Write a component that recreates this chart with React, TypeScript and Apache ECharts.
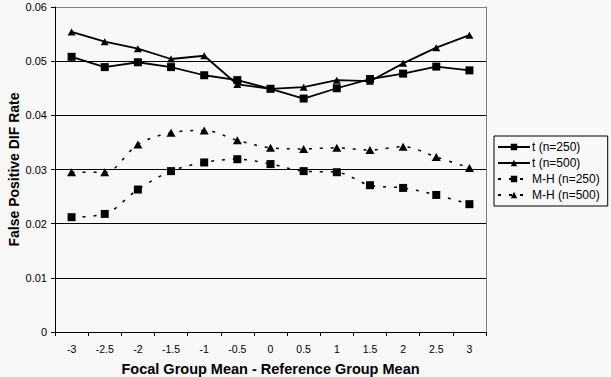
import React, { useEffect, useRef } from "react";
import * as echarts from "echarts";

const categories = ["-3", "-2.5", "-2", "-1.5", "-1", "-0.5", "0", "0.5", "1", "1.5", "2", "2.5", "3"];
const t250 = [0.0508, 0.0489, 0.0498, 0.0489, 0.0474, 0.0465, 0.0449, 0.0431, 0.0450, 0.0467, 0.0477, 0.0490, 0.0483];
const t500 = [0.0554, 0.0536, 0.0523, 0.0504, 0.0510, 0.0457, 0.0449, 0.0452, 0.0465, 0.0463, 0.0496, 0.0525, 0.0548];
const mh250 = [0.0212, 0.0218, 0.0263, 0.0297, 0.0313, 0.0319, 0.0310, 0.0297, 0.0295, 0.0271, 0.0266, 0.0253, 0.0236];
const mh500 = [0.0295, 0.0295, 0.0346, 0.0368, 0.0372, 0.0354, 0.0340, 0.0338, 0.0340, 0.0336, 0.0342, 0.0323, 0.0303];
const seriesNames = ["t (n=250)", "t (n=500)", "M-H (n=250)", "M-H (n=500)"];

const FONT = "'Liberation Sans', Arial, sans-serif";

export default function App() {
  const ref = useRef<HTMLDivElement>(null);
  useEffect(() => {
    if (!ref.current) return;
    const chart = echarts.init(ref.current, undefined, { renderer: "svg" });
    const solid = (name: string, data: number[], symbol: string, size: number | number[]) => ({
      name,
      type: "line",
      data,
      symbol,
      symbolSize: size,
      showSymbol: true,
      itemStyle: { color: "#000" },
      lineStyle: { color: "#000", width: 1.8, type: "solid" },
      z: 3,
    });
    const dashed = (name: string, data: number[], symbol: string, size: number | number[]) => ({
      name,
      type: "line",
      data,
      symbol,
      symbolSize: size,
      smooth: 0.35,
      itemStyle: { color: "#000" },
      lineStyle: { color: "#000", width: 1.5, type: [3, 8] },
      z: 3,
    });
    chart.setOption({
      animation: false,
      backgroundColor: "#f8f8f8",
      textStyle: { fontFamily: FONT },
      grid: { left: 55, top: 7, width: 431, height: 325, containLabel: false, outerBoundsMode: "none" },
      legend: {
        orient: "vertical",
        left: 494,
        top: 136,
        itemWidth: 32,
        itemHeight: 8,
        itemGap: 4,
        padding: [5, 8, 5, 3],
        borderColor: "#000",
        borderWidth: 1,
        backgroundColor: "#f8f8f8",
        textStyle: { fontSize: 12, color: "#000", fontFamily: FONT, padding: [0, 0, 0, -3] },
        data: seriesNames,
      },
      xAxis: {
        type: "category",
        data: categories,
        boundaryGap: true,
        name: "Focal Group Mean - Reference Group Mean",
        nameLocation: "middle",
        nameGap: 29,
        nameMoveOverlap: false,
        nameTextStyle: { fontSize: 14.5, fontWeight: "bold", color: "#000", fontFamily: FONT },
        axisLine: { lineStyle: { color: "#000", width: 1 } },
        axisTick: { show: true, alignWithLabel: false, length: 4, lineStyle: { color: "#000" } },
        axisLabel: { fontSize: 10.5, color: "#000", margin: 11, fontFamily: FONT },
        splitLine: { show: false },
      },
      yAxis: [
        {
          type: "value",
          min: 0,
          max: 0.06,
          interval: 0.01,
          name: "False Positive DIF Rate",
          nameLocation: "middle",
          nameGap: 34,
          nameMoveOverlap: false,
          nameTextStyle: { fontSize: 14, fontWeight: "bold", color: "#000", fontFamily: FONT },
          axisLine: { show: true, lineStyle: { color: "#000", width: 1 } },
          axisTick: { show: true, length: 4, lineStyle: { color: "#000" } },
          axisLabel: { fontSize: 11, color: "#000", margin: 8, fontFamily: FONT },
          splitLine: {
            show: true,
            lineStyle: { color: ["#000", "#000", "#000", "#000", "#000", "#000", "#808080"], width: 1 },
          },
        },
        {
          type: "value",
          min: 0,
          max: 0.06,
          interval: 0.01,
          position: "right",
          axisLine: { show: true, lineStyle: { color: "#808080", width: 1 } },
          axisTick: { show: false },
          axisLabel: { show: false },
          splitLine: { show: false },
        },
      ],
      series: [
        solid(seriesNames[0], t250, "rect", 8),
        solid(seriesNames[1], t500, "triangle", [8, 7]),
        dashed(seriesNames[2], mh250, "rect", 8),
        dashed(seriesNames[3], mh500, "triangle", [9, 8]),
      ],
    });
    return () => chart.dispose();
  }, []);
  return (
    <div
      ref={ref}
      style={{ position: "fixed", left: 0, top: 0, width: 611, height: 377 }}
    />
  );
}
